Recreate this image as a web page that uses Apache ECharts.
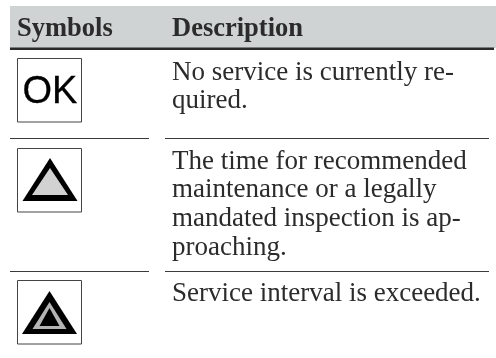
<!DOCTYPE html>
<html>
<head>
<meta charset="utf-8">
<style>
html, body { margin: 0; padding: 0; background: #fff; }
#main { width: 496px; height: 358px; }
</style>
<script src="https://cdn.jsdelivr.net/npm/echarts@6/dist/echarts.min.js"></script>
</head>
<body>
<div id="main"></div>
<script>
// table content
const headers = ['Symbols', 'Description'];
const okLabel = 'OK';
const rowLines = [
    ['No service is currently re-', 'quired.'],
    ['The time for recommended', 'maintenance or a legally', 'mandated inspection is ap-', 'proaching.'],
    ['Service interval is exceeded.']
];

const SERIF = '"Liberation Serif", serif';
const BODY_FONT = '27px ' + SERIF;
const HEAD_FONT = 'bold 26.5px ' + SERIF;
const INK = '#2b2b2b';

const boxTop = [58, 148, 280];
// text bottom of the first line in each row, then line pitch
const firstBase = [86, 175, 307];
const lineHeight = 28.8;

function text(x, y, str, font) {
    return {
        type: 'text',
        style: { x: x, y: y, text: str, font: font, fill: INK, verticalAlign: 'bottom' }
    };
}
function rect(x, y, w, h, fill, stroke) {
    return {
        type: 'rect',
        shape: { x: x, y: y, width: w, height: h },
        style: { fill: fill, stroke: stroke || null, lineWidth: stroke ? 1 : 0 }
    };
}
function tri(cx, top, bottom, half, fill) {
    return {
        type: 'polygon',
        shape: { points: [[cx, top], [cx + half, bottom], [cx - half, bottom]] },
        style: { fill: fill }
    };
}

let elements = [];

// header band
elements.push(rect(10, 6, 486, 42, '#cfd3d3'));
elements.push(rect(10, 47.5, 484, 2.5, '#2a2a2a'));
elements.push(text(17, 42.5, headers[0], HEAD_FONT));
elements.push(text(172, 42.5, headers[1], HEAD_FONT));

// separators
[138, 271].forEach(function (y) {
    elements.push(rect(10, y, 139, 1, '#3a3a3a'));
    elements.push(rect(165, y, 324, 1, '#3a3a3a'));
});

// symbol boxes
boxTop.forEach(function (y) {
    elements.push(rect(17.5, y + 0.5, 64, 63.5, '#fff', '#444'));
});

// ok symbol
elements.push({
    type: 'text',
    style: {
        x: 50, y: 92.5, text: okLabel, font: '38px "Liberation Sans", sans-serif',
        fill: '#000', stroke: '#000', lineWidth: 0.3, align: 'center', verticalAlign: 'middle'
    }
});

// warning triangle
elements.push(tri(50, 158, 201, 27.5, '#000'));
elements.push(tri(50, 168, 195, 18, '#d2d2d2'));

// exceeded triangle
elements.push(tri(49.5, 291, 334, 27.5, '#000'));
elements.push(tri(49.5, 302, 329, 17, '#b4b4b4'));
elements.push(tri(49.5, 308, 326, 10, '#000'));

// description text
rowLines.forEach(function (lines, i) {
    lines.forEach(function (line, j) {
        elements.push(text(172, firstBase[i] + j * lineHeight, line, BODY_FONT));
    });
});

const myChart = echarts.init(document.getElementById('main'));
myChart.setOption({
    animation: false,
    backgroundColor: '#fff',
    graphic: { elements: elements }
});
</script>
</body>
</html>
